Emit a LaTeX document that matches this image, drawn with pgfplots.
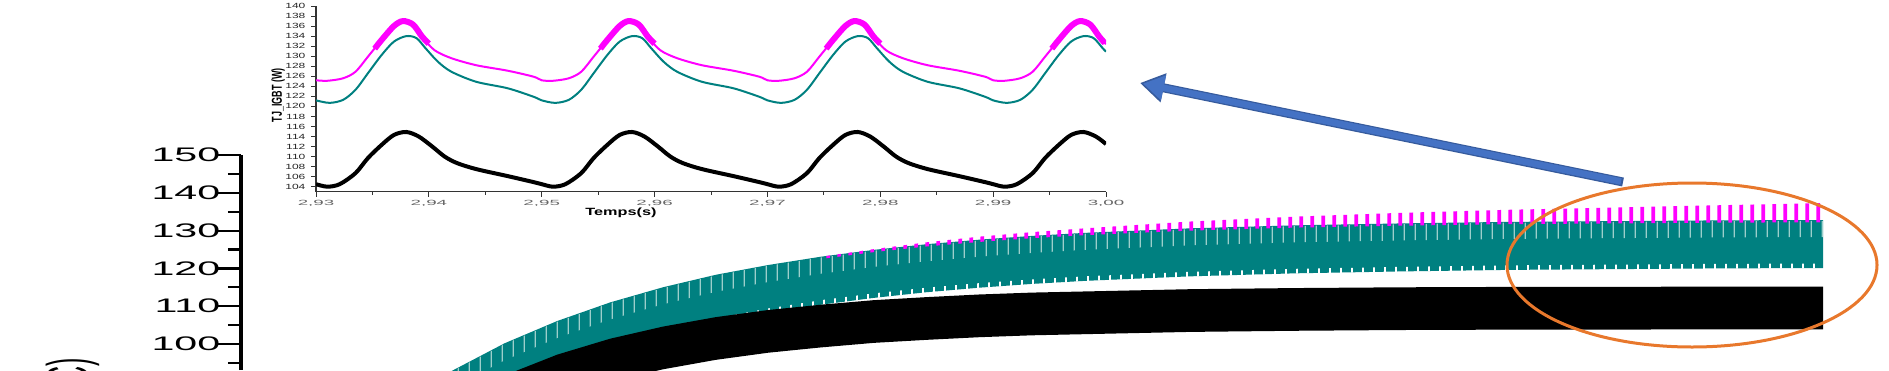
\documentclass[border=0pt]{standalone}
\usepackage{fontspec}
\setmainfont{Liberation Sans}
\usepackage{pgfplots}
\pgfplotsset{compat=1.18}
\usetikzlibrary{patterns,arrows.meta}
\definecolor{tealc}{HTML}{008080}
\definecolor{pinkc}{HTML}{FF00FF}
\definecolor{palec}{HTML}{9CCFCB}
\definecolor{arrowblue}{HTML}{4472C4}
\definecolor{ellorange}{HTML}{E8782C}
\pgfdeclarepatternformonly{spk}{\pgfqpoint{0pt}{0pt}}{\pgfqpoint{10.546pt}{300pt}}{\pgfqpoint{10.546pt}{300pt}}{%
  \pgfpathrectangle{\pgfqpoint{3.5pt}{0pt}}{\pgfqpoint{4pt}{300pt}}\pgfusepath{fill}}
\pgfdeclarepatternformonly{palelines}{\pgfqpoint{0pt}{0pt}}{\pgfqpoint{10.546pt}{300pt}}{\pgfqpoint{10.546pt}{300pt}}{%
  \pgfpathrectangle{\pgfqpoint{4.75pt}{0pt}}{\pgfqpoint{1.5pt}{300pt}}\pgfusepath{fill}}
\pgfdeclarepatternformonly{notches}{\pgfqpoint{0pt}{0pt}}{\pgfqpoint{10.546pt}{300pt}}{\pgfqpoint{10.546pt}{300pt}}{%
  \pgfpathrectangle{\pgfqpoint{0pt}{0pt}}{\pgfqpoint{2pt}{300pt}}\pgfusepath{fill}}
\begin{document}
\begin{tikzpicture}
\path[use as bounding box] (0pt,0pt) rectangle (1889pt,-370pt);
\clip (0pt,0pt) rectangle (1889pt,-370pt);

% ---------------- main axis ----------------
\begin{axis}[
  at={(241pt,-155pt)}, anchor=north west,
  width=1582pt, height=215pt, scale only axis,
  xmin=0, xmax=3, ymin=93.12, ymax=150,
  axis x line=none, axis y line*=left,
  ytick={100,110,...,150}, minor ytick={95,105,...,145},
  tick align=outside,
  major tick length=26pt, minor tick length=13pt,
  tick style={black, line width=2.2pt},
  y axis line style={line width=3.5pt},
  /pgf/number format/assume math mode=true,
  yticklabel style={font=\fontsize{19.6}{20}\selectfont, xscale=2.1, xshift=6pt},
  ylabel={Température (°C)},
  ylabel style={at={(axis description cs:-0.1068,0.0698)}, anchor=east,
     font=\fontsize{25}{26}\selectfont, yscale=2.3},
]
% teal band
\addplot[draw=none, fill=tealc] coordinates {
(0.30,84.0)(0.40,92.9)(0.50,100.2)(0.60,106.1)(0.70,111.0)(0.80,115.0)(0.90,118.3)(1.00,120.9)(1.10,123.1)(1.20,124.9)(1.30,126.4)(1.40,127.6)(1.50,128.6)(1.60,129.4)(1.80,130.6)(2.00,131.4)(2.20,131.9)(2.40,132.3)(2.60,132.5)(2.80,132.7)(3.00,132.8)
(3.00,120.1)(2.80,120.0)(2.60,119.8)(2.40,119.6)(2.20,119.2)(2.00,118.7)(1.80,117.9)(1.60,116.7)(1.50,115.9)(1.40,114.9)(1.30,113.7)(1.20,112.2)(1.10,110.4)(1.00,108.2)(0.90,105.6)(0.80,102.3)(0.70,98.3)(0.60,93.4)(0.50,87.5)(0.40,80.2)(0.30,71.3)
} -- cycle;
% pale comb lines at the top of the teal band
\addplot[draw=none, pattern=palelines, pattern color=palec] coordinates {
(0.40,92.7)(0.50,100.0)(0.60,105.9)(0.70,110.8)(0.80,114.8)(0.90,118.1)(1.00,120.7)(1.10,122.9)(1.20,124.7)(1.30,126.2)(1.40,127.4)(1.50,128.4)(1.60,129.2)(1.80,130.4)(2.00,131.2)(2.20,131.7)(2.40,132.1)(2.60,132.3)(2.80,132.5)(3.00,132.6)
(3.00,128.3)(2.80,128.2)(2.60,128.0)(2.40,127.8)(2.20,127.4)(2.00,126.9)(1.80,126.1)(1.60,124.9)(1.50,124.1)(1.40,123.1)(1.30,121.9)(1.20,120.4)(1.10,118.6)(1.00,116.4)(0.90,113.8)(0.80,110.5)(0.70,106.5)(0.60,101.6)(0.50,95.7)(0.40,88.4)
} -- cycle;
% small white notches along the lower edge of the teal band
\addplot[draw=none, pattern=notches, pattern color=white] coordinates {
(0.60,93.3)(0.70,98.2)(0.80,102.2)(0.90,105.5)(1.00,108.1)(1.10,110.3)(1.20,112.1)(1.30,113.6)(1.40,114.8)(1.50,115.8)(1.60,116.6)(1.80,117.8)(2.00,118.6)(2.20,119.1)(2.40,119.5)(2.60,119.7)(2.80,119.9)(3.00,120.0)
(3.00,121.3)(2.80,121.2)(2.60,121.0)(2.40,120.8)(2.20,120.4)(2.00,119.9)(1.80,119.1)(1.60,117.9)(1.50,117.1)(1.40,116.1)(1.30,114.9)(1.20,113.4)(1.10,111.6)(1.00,109.4)(0.90,106.8)(0.80,103.5)(0.70,99.5)(0.60,94.6)
} -- cycle;
% pink spikes above the teal band
\addplot[draw=none, pattern=spk, pattern color=pinkc] coordinates {
(1.10,123.1)(1.20,125.1)(1.30,126.9)(1.40,128.4)(1.50,129.6)(1.60,130.6)(1.80,132.4)(2.00,133.7)(2.20,134.7)(2.40,135.5)(2.60,136.1)(2.80,136.7)(3.00,137.3)
(3.00,132.2)(2.80,132.1)(2.60,131.9)(2.40,131.7)(2.20,131.3)(2.00,130.8)(1.80,130.0)(1.60,128.8)(1.50,128.0)(1.40,127.0)(1.30,125.8)(1.20,124.3)(1.10,122.5)
} -- cycle;
% black band
\addplot[draw=none, fill=black] coordinates {
(0.30,75.2)(0.40,84.6)(0.50,91.7)(0.60,97.2)(0.70,101.4)(0.80,104.6)(0.90,107.1)(1.00,109.0)(1.10,110.4)(1.20,111.6)(1.30,112.4)(1.40,113.1)(1.50,113.6)(1.60,113.9)(1.80,114.5)(2.00,114.8)(2.20,115.0)(2.40,115.1)(2.60,115.1)(2.80,115.2)(3.00,115.2)
(3.00,103.9)(2.80,103.9)(2.60,103.8)(2.40,103.8)(2.20,103.7)(2.00,103.5)(1.80,103.2)(1.60,102.6)(1.50,102.3)(1.40,101.8)(1.30,101.1)(1.20,100.3)(1.10,99.1)(1.00,97.7)(0.90,95.8)(0.80,93.3)(0.70,90.1)(0.60,85.9)(0.50,80.4)(0.40,73.3)(0.30,63.9)
} -- cycle;
\end{axis}

% ---------------- inset axis ----------------
\begin{axis}[
  at={(316pt,-6pt)}, anchor=north west,
  width=790pt, height=185.7pt, scale only axis,
  xmin=2.93, xmax=3.00, ymin=103, ymax=140,
  axis lines*=left,
  xtick={2.93,2.94,2.95,2.96,2.97,2.98,2.99,3.00}, minor x tick num=1,
  ytick={104,106,...,140},
  tick align=outside, major tick length=5pt, minor tick length=3pt,
  axis line style={line width=1.1pt, black!80},
  tick style={line width=1pt, black!80},
  /pgf/number format/assume math mode=true,
  xticklabel style={/pgf/number format/fixed, /pgf/number format/fixed zerofill,
     /pgf/number format/precision=2, /pgf/number format/use comma,
     font=\fontsize{7.5}{8}\selectfont, xscale=2.5, text=black!60},
  yticklabel style={font=\fontsize{7.5}{8}\selectfont, xscale=1.6, text=black!85},
  xlabel={Temps(s)},
  xlabel style={at={(axis description cs:0.386,-0.1147)}, anchor=center,
     font=\bfseries\fontsize{10.5}{11}\selectfont, xscale=1.55},
  ylabel={TJ\_IGBT (W)},
  ylabel style={at={(axis description cs:-0.048,0.52)}, anchor=center,
     font=\bfseries\fontsize{9}{10}\selectfont, yscale=1.6},
]
% pink
\addplot[pinkc, line width=2pt, smooth, tension=0.5] coordinates {
(2.9300,125.2)(2.9310,125.1)(2.9324,125.6)(2.9335,126.9)(2.9346,129.9)(2.9358,133.2)(2.9369,136.0)(2.9377,137.2)(2.9386,136.5)(2.9394,133.9)(2.9405,131.2)(2.9420,129.6)(2.9442,128.2)(2.9470,127.1)(2.9493,125.9)
(2.9500,125.2)(2.9510,125.1)(2.9524,125.6)(2.9535,126.9)(2.9546,129.9)(2.9558,133.2)(2.9569,136.0)(2.9577,137.2)(2.9586,136.5)(2.9594,133.9)(2.9605,131.2)(2.9620,129.6)(2.9642,128.2)(2.9670,127.1)(2.9693,125.9)
(2.9700,125.2)(2.9710,125.1)(2.9724,125.6)(2.9735,126.9)(2.9746,129.9)(2.9758,133.2)(2.9769,136.0)(2.9777,137.2)(2.9786,136.5)(2.9794,133.9)(2.9805,131.2)(2.9820,129.6)(2.9842,128.2)(2.9870,127.1)(2.9893,125.9)
(2.9900,125.2)(2.9910,125.1)(2.9924,125.6)(2.9935,126.9)(2.9946,129.9)(2.9958,133.2)(2.9969,136.0)(2.9977,137.2)(2.9986,136.5)(2.9994,133.9)(3.0000,132.4)
};
% pink thick peaks
\addplot[pinkc, line width=6pt, smooth, tension=0.5, unbounded coords=jump] coordinates {
(2.9352,131.5)(2.9358,133.2)(2.9369,136.0)(2.9377,137.0)(2.9386,136.3)(2.9394,133.9)(2.9400,132.5)
(2.9450,nan)
(2.9552,131.5)(2.9558,133.2)(2.9569,136.0)(2.9577,137.0)(2.9586,136.3)(2.9594,133.9)(2.9600,132.5)
(2.9650,nan)
(2.9752,131.5)(2.9758,133.2)(2.9769,136.0)(2.9777,137.0)(2.9786,136.3)(2.9794,133.9)(2.9800,132.5)
(2.9850,nan)
(2.9952,131.5)(2.9958,133.2)(2.9969,136.0)(2.9977,137.0)(2.9986,136.3)(2.9994,133.9)(2.9999,132.6)
};
% teal
\addplot[tealc, line width=2pt, smooth, tension=0.5] coordinates {
(2.9300,121.2)(2.9312,120.7)(2.9324,121.3)(2.9335,123.3)(2.9346,126.6)(2.9358,130.2)(2.9369,132.9)(2.9380,134.0)(2.9389,133.6)(2.9397,131.6)(2.9408,128.9)(2.9420,126.9)(2.9442,124.9)(2.9470,123.6)(2.9493,121.9)
(2.9500,121.2)(2.9512,120.7)(2.9524,121.3)(2.9535,123.3)(2.9546,126.6)(2.9558,130.2)(2.9569,132.9)(2.9580,134.0)(2.9589,133.6)(2.9597,131.6)(2.9608,128.9)(2.9620,126.9)(2.9642,124.9)(2.9670,123.6)(2.9693,121.9)
(2.9700,121.2)(2.9712,120.7)(2.9724,121.3)(2.9735,123.3)(2.9746,126.6)(2.9758,130.2)(2.9769,132.9)(2.9780,134.0)(2.9789,133.6)(2.9797,131.6)(2.9808,128.9)(2.9820,126.9)(2.9842,124.9)(2.9870,123.6)(2.9893,121.9)
(2.9900,121.2)(2.9912,120.7)(2.9924,121.3)(2.9935,123.3)(2.9946,126.6)(2.9958,130.2)(2.9969,132.9)(2.9980,134.0)(2.9989,133.6)(2.9997,131.6)(3.0000,130.9)
};
% black
\addplot[black, line width=4pt, smooth, tension=0.5] coordinates {
(2.9300,104.5)(2.9310,104.0)(2.9321,104.5)(2.9335,106.7)(2.9346,109.7)(2.9358,112.3)(2.9369,114.3)(2.9380,114.9)(2.9391,114.0)(2.9403,112.0)(2.9414,110.0)(2.9425,108.7)(2.9442,107.5)(2.9470,106.1)(2.9493,104.9)
(2.9500,104.5)(2.9510,104.0)(2.9521,104.5)(2.9535,106.7)(2.9546,109.7)(2.9558,112.3)(2.9569,114.3)(2.9580,114.9)(2.9591,114.0)(2.9603,112.0)(2.9614,110.0)(2.9625,108.7)(2.9642,107.5)(2.9670,106.1)(2.9693,104.9)
(2.9700,104.5)(2.9710,104.0)(2.9721,104.5)(2.9735,106.7)(2.9746,109.7)(2.9758,112.3)(2.9769,114.3)(2.9780,114.9)(2.9791,114.0)(2.9803,112.0)(2.9814,110.0)(2.9825,108.7)(2.9842,107.5)(2.9870,106.1)(2.9893,104.9)
(2.9900,104.5)(2.9910,104.0)(2.9921,104.5)(2.9935,106.7)(2.9946,109.7)(2.9958,112.3)(2.9969,114.3)(2.9980,114.9)(2.9991,114.0)(3.0000,112.5)
};
\end{axis}

% ---------------- annotations ----------------
\draw[arrowblue!80!black, line width=9pt, -{Triangle[length=24pt, width=28pt]}] (1623pt,-182pt) -- (1140pt,-83pt);
\draw[arrowblue, line width=6.5pt, -{Triangle[length=21pt, width=24pt]}] (1621pt,-181.5pt) -- (1143pt,-83.6pt);
\draw[ellorange, line width=3pt] (1692pt,-265pt) ellipse [x radius=185pt, y radius=82pt];
\end{tikzpicture}
\end{document}
